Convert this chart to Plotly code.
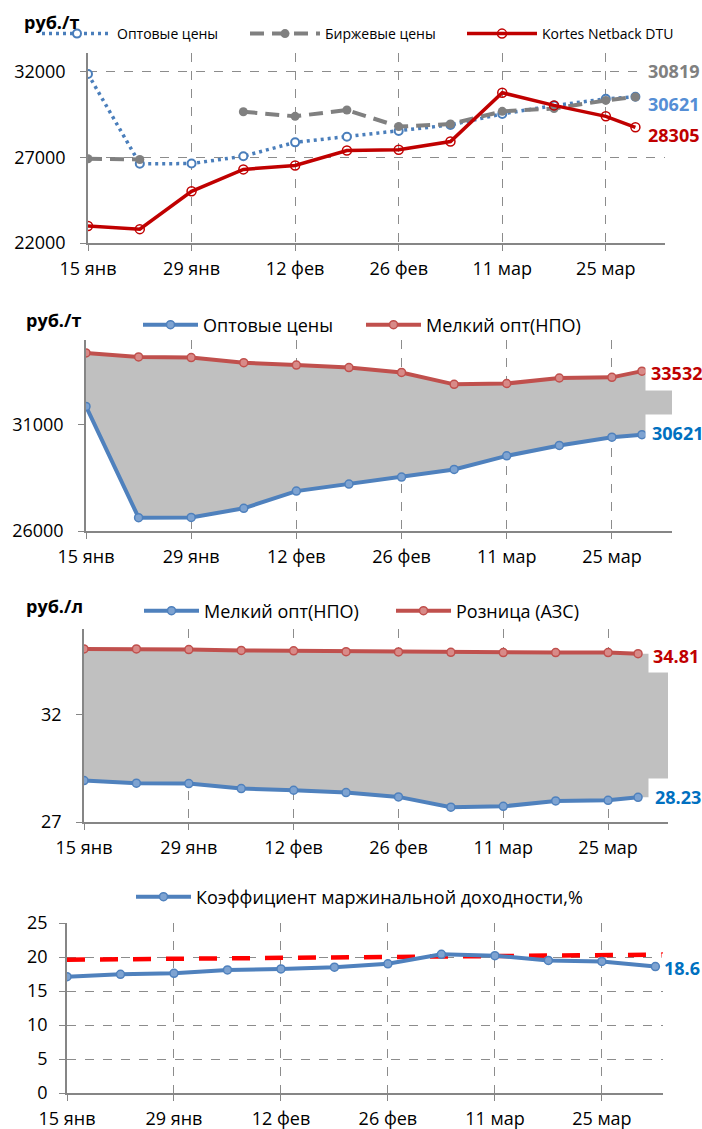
import plotly.graph_objects as go

W, H = 702, 1129
FONT = 'Open Sans, Noto Sans, sans-serif'

# недели (2016 г.)
weeks = ['2016-01-15', '2016-01-22', '2016-01-29', '2016-02-05', '2016-02-12', '2016-02-19',
         '2016-02-26', '2016-03-04', '2016-03-11', '2016-03-18', '2016-03-25']
dates_p = weeks + ['2016-03-29']   # цены, руб./т и руб./л
dates_k = weeks + ['2016-04-01']   # коэффициент

tick_vals = ['2016-01-15', '2016-01-29', '2016-02-12', '2016-02-26', '2016-03-11', '2016-03-25']
tick_text = ['15 янв', '29 янв', '12 фев', '26 фев', '11 мар', '25 мар']
x_end = '2016-04-02'

opt_prices = [31870, 26630, 26640, 27070, 27880, 28210, 28540, 28900, 29540, 30030, 30420, 30540]
birzha_prices = [26920, 26880, None, 29670, 29400, 29770, 28800, 28950, 29690, 29860, 30330, 30530]
netback_dtu = [22990, 22810, 25020, 26300, 26530, 27400, 27450, 27930, 30780, 30040, 29400, 28760]

npo_t = [34390, 34200, 34170, 33930, 33820, 33700, 33470, 32910, 32950, 33210, 33240, 33532]

npo_l = [28.93, 28.81, 28.79, 28.56, 28.48, 28.37, 28.17, 27.69, 27.73, 27.98, 28.01, 28.15]
azs_l = [35.07, 35.07, 35.04, 35.00, 34.98, 34.94, 34.93, 34.91, 34.90, 34.90, 34.90, 34.85]

margin_k = [17.1, 17.45, 17.6, 18.1, 18.25, 18.5, 19.0, 20.4, 20.2, 19.5, 19.35, 18.6]
trend_dates = ['2016-01-15', '2016-04-02']
trend_k = [19.6, 20.35]

BLUE, RED = '#4f81bd', '#c0504d'


def fx(p):
    return p / W


def fy(p):
    return 1 - p / H


fig = go.Figure()

# --- панель 1: оптовые / биржевые / netback ---
fig.add_trace(go.Scatter(
    x=dates_p, y=opt_prices, name='Оптовые цены', mode='lines+markers',
    line=dict(color='#4a7ebb', width=3.5, dash='3px,4px'),
    marker=dict(symbol='circle', size=8, color='white', line=dict(color='#4a7ebb', width=2)),
    xaxis='x', yaxis='y', legend='legend'))
fig.add_trace(go.Scatter(
    x=dates_p, y=birzha_prices, name='Биржевые цены', mode='lines+markers',
    line=dict(color='#808080', width=4, dash='14px,8px'),
    marker=dict(symbol='circle', size=9, color='#808080'),
    xaxis='x', yaxis='y', legend='legend'))
fig.add_trace(go.Scatter(
    x=dates_p, y=netback_dtu, name='Kortes Netback DTU', mode='lines+markers',
    line=dict(color='#c00000', width=3.5),
    marker=dict(symbol='circle-open', size=9, color='#c00000', line=dict(width=1.5)),
    xaxis='x', yaxis='y', legend='legend5'))


# --- панели 2 и 3: коридор между двумя рядами ---
def band(dates, low, high, xa, ya):
    xs = dates + [x_end]
    fig.add_trace(go.Scatter(x=xs, y=low + [low[-1]], mode='lines', line=dict(width=0),
                             showlegend=False, hoverinfo='skip', xaxis=xa, yaxis=ya))
    fig.add_trace(go.Scatter(x=xs, y=high + [high[-1]], mode='lines', line=dict(width=0),
                             fill='tonexty', fillcolor='#c0c0c0',
                             showlegend=False, hoverinfo='skip', xaxis=xa, yaxis=ya))


def line(dates, vals, name, color, tint, xa, ya, lg):
    fig.add_trace(go.Scatter(
        x=dates, y=vals, name=name, mode='lines+markers',
        line=dict(color=color, width=4),
        marker=dict(symbol='circle', size=8, color=tint, line=dict(color=color, width=1.5)),
        xaxis=xa, yaxis=ya, legend=lg))


band(dates_p, opt_prices, npo_t, 'x2', 'y2')
line(dates_p, opt_prices, 'Оптовые цены', BLUE, '#7ea3d1', 'x2', 'y2', 'legend2')
line(dates_p, npo_t, 'Мелкий опт(НПО)', RED, '#d88a88', 'x2', 'y2', 'legend2')

band(dates_p, npo_l, azs_l, 'x3', 'y3')
line(dates_p, npo_l, 'Мелкий опт(НПО)', BLUE, '#7ea3d1', 'x3', 'y3', 'legend3')
line(dates_p, azs_l, 'Розница (АЗС)', RED, '#d88a88', 'x3', 'y3', 'legend3')

# --- панель 4: коэффициент ---
fig.add_trace(go.Scatter(x=trend_dates, y=trend_k, mode='lines', showlegend=False,
                         line=dict(color='#ff0000', width=4.5, dash='18px,15px'),
                         hoverinfo='skip', xaxis='x4', yaxis='y4'))
line(dates_k, margin_k, 'Коэффициент маржинальной доходности,%', BLUE, '#7ea3d1',
     'x4', 'y4', 'legend4')

# оси: (x0, x1, y_top, y_bottom) в пикселях картинки
panels = [(88, 665, 53, 243), (86, 672, 340, 531), (84, 668, 629, 822), (67, 663, 923, 1093)]
y_specs = [
    dict(range=[22000, 33100], tickvals=[22000, 27000, 32000], showgrid=True),
    dict(range=[26000, 35000], tickvals=[26000, 31000], showgrid=False),
    dict(range=[27, 36], tickvals=[27, 32], showgrid=False),
    dict(range=[0, 25], tickvals=[0, 5, 10, 15, 20, 25], showgrid=True),
]
axis_common = dict(showline=True, linecolor='#868686', linewidth=1.5, ticks='outside',
                   tickcolor='#868686', ticklen=6, gridcolor='#8c8c8c', griddash='dash',
                   gridwidth=1.2, zeroline=False, automargin=False,
                   tickfont=dict(size=18, color='black'))
layout = {}
for i, ((x0, x1, yt, yb), ys) in enumerate(zip(panels, y_specs)):
    sfx = '' if i == 0 else str(i + 1)
    layout['xaxis' + sfx] = dict(axis_common, domain=[fx(x0), fx(x1)], anchor='y' + sfx,
                                 type='date', range=['2016-01-15', x_end],
                                 tickvals=tick_vals, ticktext=tick_text, showgrid=True,
                                 ticklabelstandoff=3)
    layout['yaxis' + sfx] = dict(axis_common, domain=[fy(yb), fy(yt)], anchor='x' + sfx,
                                 tickformat='d', ticklabelstandoff=8 if i == 3 else 11, **ys)

legend_common = dict(orientation='h', xanchor='left', yanchor='middle', bgcolor='rgba(0,0,0,0)',
                     itemwidth=55, traceorder='normal', font=dict(size=18, color='black'))
small = dict(itemwidth=70, font=dict(size=14, color='black'))
layout['legend'] = dict(legend_common, x=fx(37), y=fy(34), entrywidth=123, **small)
layout['legend5'] = dict(legend_common, x=fx(462), y=fy(34), **small)
layout['legend2'] = dict(legend_common, x=fx(138), y=fy(325), entrywidth=153)
layout['legend3'] = dict(legend_common, x=fx(139), y=fy(611), entrywidth=182)
layout['legend4'] = dict(legend_common, x=fx(131), y=fy(897))

fig.update_layout(width=W, height=H, margin=dict(l=0, r=0, t=0, b=0, autoexpand=False),
                  paper_bgcolor='white', plot_bgcolor='white',
                  font=dict(family=FONT, color='black'), showlegend=True, **layout)

# подписи единиц
for txt, xp, yp in [('руб./т', 22, 22), ('руб./т', 24, 320), ('руб./л', 24, 606)]:
    fig.add_annotation(text='<b>' + txt + '</b>', xref='paper', yref='paper', x=fx(xp), y=fy(yp),
                       xanchor='left', yanchor='middle', showarrow=False,
                       font=dict(size=18, color='black'))

# последние значения справа
end_labels = [
    ('30819', '#808080', 645, 71, 2),
    ('30621', '#558ed5', 645, 104, 2),
    ('28305', '#c00000', 645, 135, 2),
    ('33532', '#c00000', 645, 373, 5),
    ('30621', '#0070c0', 645, 433, 6),
    ('34.81', '#c00000', 648, 656, 4),
    ('28.23', '#0070c0', 648, 797, 6),
    ('18.6', '#0070c0', 661, 968, 2),
]
for txt, col, xp, yp, pad in end_labels:
    fig.add_annotation(text='<b>' + txt + '</b>', xref='paper', yref='paper', x=fx(xp), y=fy(yp),
                       xanchor='left', yanchor='middle', showarrow=False, bgcolor='white',
                       borderpad=pad, font=dict(size=18, color=col))

# убираем стандартный отступ body, чтобы фигура встала точно в окно
fig.write_html('out.html', config={'displayModeBar': False},
               post_script="document.body.style.margin = '0';")
